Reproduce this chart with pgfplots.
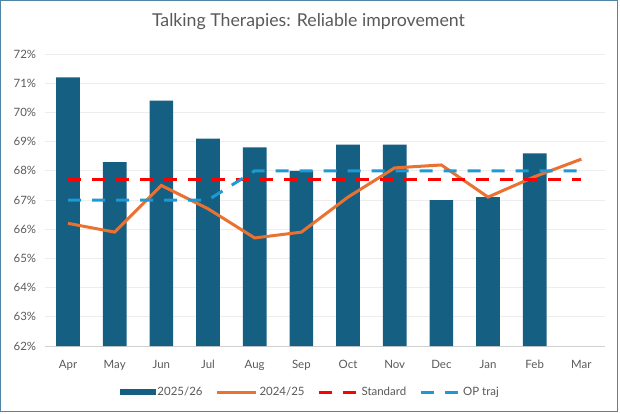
\documentclass[border=0pt]{standalone}
\usepackage{fontspec}
\setmainfont{Lato}
\usepackage{pgfplots}
\pgfplotsset{compat=1.18}

\definecolor{barblue}{HTML}{156082}
\definecolor{lineorange}{HTML}{E97132}
\definecolor{stdred}{HTML}{FF0000}
\definecolor{opblue}{HTML}{1B9AD6}
\definecolor{txtgray}{HTML}{595959}
\definecolor{gridgray}{HTML}{EDEDED}
\definecolor{axisgray}{HTML}{D0D0D0}
\definecolor{framecol}{HTML}{4F86A8}

\pgfplotsset{
  longline/.style={legend image code/.code={\draw[##1] (0bp,0bp) -- (39bp,0bp);}},
  barpatch/.style={legend image code/.code={\fill[barblue] (0bp,-3bp) rectangle (36bp,3bp);}},
}

\begin{document}
\begin{tikzpicture}[x=1bp,y=1bp]
\useasboundingbox (0,0) rectangle (620,413);
\draw[framecol, line width=1.4bp] (0.7,1.3) rectangle (617.2,412.3);
\node[text=txtgray, font=\fontsize{17.8}{20}\selectfont] at (308.5,391.5) {Talking Therapies: Reliable improvement};
\begin{axis}[
  at={(44.7bp,67bp)}, anchor=south west,
  scale only axis, width=560bp, height=292bp,
  xmin=-0.5, xmax=11.5, ymin=62, ymax=72,
  xtick={0,...,11},
  xticklabels={Apr,May,Jun,Jul,Aug,Sep,Oct,Nov,Dec,Jan,Feb,Mar},
  ytick={62,...,72},
  yticklabel={\pgfmathprintnumber{\tick}\%},
  /pgf/number format/assume math mode=true,
  axis x line*=bottom, axis y line*=left,
  y axis line style={draw=none},
  x axis line style={draw=axisgray, line width=1bp, -},
  major tick length=0pt,
  ymajorgrids, grid style={gridgray, line width=0.8bp},
  tick label style={text=txtgray, font=\fontsize{11.5}{13}\selectfont},
  xticklabel style={yshift=-11bp},
  yticklabel style={xshift=-5bp},
  legend columns=4,
  legend style={draw=none, at={(0.474,-0.158)}, anchor=center,
    font=\fontsize{11.5}{13}\selectfont, text=txtgray,
    /tikz/every even column/.append style={column sep=11bp}},
]
% 2025/26 monthly values
\addplot[ybar, bar width=23.6bp, fill=barblue, draw=none, barpatch]
  coordinates {(0,71.2) (1,68.3) (2,70.4) (3,69.1) (4,68.8) (5,68.0)
               (6,68.9) (7,68.9) (8,67.0) (9,67.1) (10,68.6)};
\addlegendentry{2025/26}
% 2024/25 comparison
\addplot[lineorange, line width=3bp, mark=none, longline]
  coordinates {(0,66.2) (1,65.9) (2,67.5) (3,66.7) (4,65.7) (5,65.9)
               (6,67.1) (7,68.1) (8,68.2) (9,67.1) (10,67.8) (11,68.4)};
\addlegendentry{2024/25}
% national standard
\addplot[stdred, line width=3bp, dash pattern=on 13bp off 11bp, mark=none, longline]
  coordinates {(0,67.7) (1,67.7) (2,67.7) (3,67.7) (4,67.7) (5,67.7)
               (6,67.7) (7,67.7) (8,67.7) (9,67.7) (10,67.7) (11,67.7)};
\addlegendentry{Standard}
% operational plan trajectory
\addplot[opblue, line width=3bp, dash pattern=on 13bp off 11bp, mark=none, longline]
  coordinates {(0,67) (1,67) (2,67) (3,67) (4,68) (5,68)
               (6,68) (7,68) (8,68) (9,68) (10,68) (11,68)};
\addlegendentry{OP traj}
\end{axis}
\end{tikzpicture}
\end{document}
